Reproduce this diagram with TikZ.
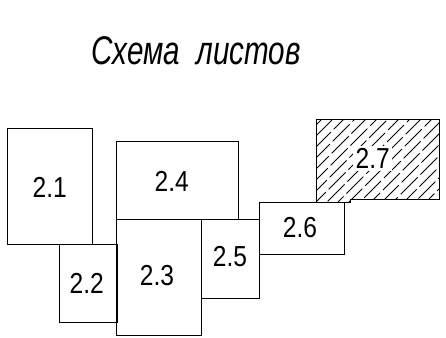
\documentclass[tikz,border=0pt]{standalone}
\usepackage{fontspec}
\newfontfamily\labfont[FakeStretch=0.85]{Liberation Sans}
\newfontfamily\ttlfont[FakeStretch=0.74]{Liberation Sans}
\begin{document}
\begin{tikzpicture}[x=1pt,y=-1pt,
  sheet/.style={draw=black,line width=1pt},
  lab/.style={font=\labfont\fontsize{28.9}{30}\selectfont,anchor=base,inner sep=0pt},
  hatch/.style={line width=0.8pt,dash pattern=on 24pt off 4pt}]
\useasboundingbox (0,0) rectangle (446,337);
% title
\node[font=\ttlfont\itshape\fontsize{40}{42}\selectfont,anchor=base,inner sep=0pt] (title) at (196,64.3) {Схема\ \ листов};
% sheets
\draw[sheet] (7.3,128.3) rectangle (92.7,244);
\draw[sheet] (59,244) rectangle (117,322);
\draw[sheet] (116.7,141.7) rectangle (238.7,219.3);
\draw[sheet] (116.7,219.3) rectangle (201.7,335.7);
\draw[sheet] (201.7,219.3) rectangle (259.3,298.3);
\draw[sheet] (259.3,202.5) rectangle (344,254.3);
% hatched sheet 2.7
\begin{scope}
\clip (316,119.3) -- (439.3,119.3) -- (439.3,199.3) -- (350,199.3) -- (350,202.5) -- (316,202.5) -- cycle;
\foreach \i in {0,...,20} {
  \pgfmathsetmacro\ph{mod(17*\i,28)}
  \draw[hatch,dash phase=\ph pt] ({218+11*\i},212) -- ({318+11*\i},112);
}
\end{scope}
\node[lab,fill=white,inner sep=2.5pt] (l27) at (372.8,168.3) {2.7};
\draw[sheet] (316,119.3) -- (439.3,119.3) -- (439.3,199.3) -- (350,199.3) -- (350,202.5) -- (316,202.5) -- cycle;
% labels
\node[lab] (l21) at (49.7,197.3) {2.1};
\node[lab] (l22) at (86.8,293.7) {2.2};
\node[lab] (l23) at (157,285) {2.3};
\node[lab] (l24) at (171.7,191) {2.4};
\node[lab] (l25) at (230,266) {2.5};
\node[lab] (l26) at (300,237.7) {2.6};
\end{tikzpicture}
\end{document}
